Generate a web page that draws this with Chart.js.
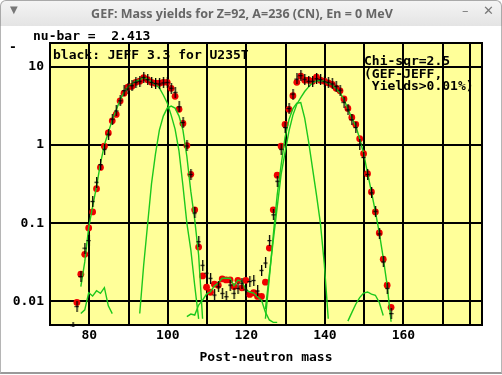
<!DOCTYPE html>
<html>
<head>
<meta charset="utf-8">
<script src="https://cdn.jsdelivr.net/npm/chart.js@4.4.1/dist/chart.umd.min.js"></script>
<style>
  html, body { margin: 0; padding: 0; background: #fff; }
  #win { position: relative; width: 502px; height: 375px; overflow: hidden; background: #fff; }
  #bar {
    position: absolute; left: 0; top: 0; width: 500px; height: 25px;
    border: 1px solid #a9a9a9; border-bottom: none; border-radius: 6px 6px 0 0;
    background: linear-gradient(#f4f4f4, #e4e4e4); z-index: 2;
  }
  #bar .t { position: absolute; left: 0; width: 482px; top: 4px; text-align: center;
    font: bold 12.5px "Noto Sans", sans-serif; color: #666; white-space: nowrap; }
  #bar .i { position: absolute; font: 13px "DejaVu Sans", sans-serif; color: #777; }
  #frame { position: absolute; left: 0; top: 25px; width: 500px; height: 347px;
    border: 1px solid #b5b5b5; border-top: none; border-bottom: 2px solid #9a9a9a; }
  canvas { position: absolute; left: 0; top: 0; z-index: 1; }
  .txt { position: absolute; font: bold 13px "DejaVu Sans Mono", monospace; color: #000;
    white-space: pre; line-height: 13px; z-index: 3; }
</style>
</head>
<body>
<div id="win">
  <div id="frame"></div>
  <div id="bar">
    <span class="i" style="left:9px;top:3px;font-size:10px">&#9660;</span>
    <div class="t">GEF: Mass yields for Z=92, A=236 (CN), En = 0 MeV</div>
    <span class="i" style="left:461px;top:2px">&#8211;</span>
    <span class="i" style="left:482px;top:2px">&#10005;</span>
  </div>
  <canvas id="myChart" width="502" height="375"></canvas>
  <div class="txt" style="left:33px;top:29px">nu-bar =  2.413</div>
  <div class="txt" style="left:9px;top:40px">-</div>
  <div class="txt" style="left:53px;top:48px">black: JEFF 3.3 for U235T</div>
  <div class="txt" style="left:364px;top:55px;line-height:12.5px">Chi-sqr=2.5
(GEF-JEFF,
 Yields&gt;0.01%)</div>
</div>
<script>
const ctx = document.getElementById('myChart');

// post-neutron masses and yields (%)
const gefFrom = 76;
const gefYield = [
  0.0097, 0.0223, 0.040, 0.087, 0.139, 0.275, 0.515, 0.96, 1.42, 2.03,
  2.45, 3.63, 4.56, 5.44, 5.6, 6.3, 6.5, 7.22, 6.81, 6.3,
  6.12, 6.12, 6.3, 6.3, 5.28, 4.17, 2.84, 1.88, 0.98, 0.42,
  0.148, 0.0495, 0.0212, 0.0152, 0.0131, 0.0166, 0.0161, 0.0194, 0.0188, 0.0188,
  0.0155, 0.0186, 0.0149, 0.0186, 0.0123, 0.0129, 0.0116, 0.0116, 0.0176, 0.048,
  0.148, 0.41, 0.96, 1.82, 2.84, 4.25, 6.3, 7.54, 6.69, 6.69,
  6.5, 7.31, 6.69, 6.5, 6.2, 5.9, 5.3, 4.9, 3.85, 2.92,
  2.24, 1.82, 1.2, 0.77, 0.428, 0.25, 0.139, 0.075, 0.0347, 0.0161,
  0.0084
];

const jeffFrom = 75;
const jeffYield = [
  0.0047, 0.0086, 0.0208, 0.048, 0.060, 0.19, 0.334, 0.56, 0.88, 1.37,
  2.13, 2.72, 3.66, 4.92, 5.17, 5.7, 6.3, 6.5, 7.3, 6.8,
  6.3, 6.1, 6.0, 6.2, 6.3, 5.3, 4.69, 3.07, 1.93, 0.97,
  0.42, 0.135, 0.058, 0.029, 0.023, 0.0198, 0.0121, 0.0154, 0.0127, 0.0115,
  0.0162, 0.0127, 0.0147, 0.0171, 0.0140, 0.0180, 0.0186, 0.0136, 0.025, 0.031,
  0.060, 0.128, 0.344, 0.88, 1.67, 2.92, 4.46, 6.94, 7.67, 6.9,
  6.5, 6.5, 7.0, 6.8, 6.4, 6.3, 6.0, 5.6, 5.0, 3.5,
  2.8, 2.1, 1.67, 1.02, 0.69, 0.42, 0.244, 0.142, 0.073, 0.032,
  0.0147, 0.007
];

// fission channels (green)
const s2LightFrom = 77;
const s2Light = [
  0.0155, 0.032, 0.0875, 0.163, 0.294, 0.58, 1.0, 1.45, 2.07, 2.78,
  3.73, 4.72, 5.49, 6.0, 6.55, 6.74, 7.3, 6.94, 6.35, 5.9,
  5.33, 4.33, 3.42, 2.4, 1.59, 0.83, 0.30, 0.10, 0.046, 0.016,
  0.006
];
const s1LightFrom = 92;
const s1Light = [
  0.007, 0.029, 0.096, 0.32, 0.76, 1.54, 2.33, 2.95, 3.13, 2.95,
  2.33, 1.54, 0.71, 0.256, 0.11, 0.039, 0.006
];
const s3LightFrom = 77;
const s3Light = [0.0070, 0.0078, 0.0129, 0.0117, 0.0137, 0.0127, 0.015, 0.0088, 0.0070];

const slFrom = 104;
const slYield = [
  0.0064, 0.0069, 0.0067, 0.009, 0.0104, 0.0124, 0.0133, 0.0158, 0.0172, 0.0198,
  0.0198, 0.0198, 0.0158, 0.0188, 0.0181, 0.014, 0.0132, 0.0128, 0.0115, 0.0104,
  0.0073, 0.0058, 0.0054, 0.0054
];

const s1HeavyFrom = 124;
const s1Heavy = [
  0.006, 0.02, 0.07, 0.23, 0.55, 1.25, 2.1, 2.9, 3.4, 3.47,
  2.2, 1.1, 0.5, 0.23, 0.1, 0.03, 0.006
];
const s2HeavyFrom = 124;
const s2Heavy = [
  0.008, 0.022, 0.06, 0.16, 0.42, 0.8, 1.5, 2.4, 3.3, 4.0,
  4.8, 5.5, 6.2, 6.6, 6.6, 6.5, 6.1, 5.9, 5.2, 4.6,
  3.8, 2.9, 2.2, 1.75, 1.2, 0.78, 0.44, 0.25, 0.14, 0.075,
  0.036, 0.016, 0.0055
];
const s3HeavyFrom = 145;
const s3Heavy = [0.0056, 0.0072, 0.0092, 0.0112, 0.0128, 0.0132, 0.0124, 0.0120, 0.0097, 0.0066];

const xTicks = [70, 80, 90, 100, 110, 120, 130, 140, 150, 160, 170, 177, 180];
const xLabels = [80, 100, 120, 140, 160];
const yTicks = [0.01, 0.1, 1, 10];
const yLabels = ['0.01', '0.1', '1', '10'];

// GEF draws its bins slightly right of the integer mass
const binShift = 0.85;

function pts(from, values) {
  return values.map((v, i) => ({ x: from + i + binShift, y: v }));
}

// error-bar cross used for the JEFF points
const cross = document.createElement('canvas');
cross.width = 5; cross.height = 11;
const cc2 = cross.getContext('2d');
cc2.fillStyle = '#000';
cc2.fillRect(2, 0, 1.3, 11);
cc2.fillRect(0.5, 5, 4, 1.2);

const green = '#1cc81c';
function channel(from, values) {
  return {
    data: pts(from, values), showLine: true, borderColor: green, borderWidth: 1.4,
    pointRadius: 0, tension: 0, order: 2, clip: 0
  };
}

const frame = {
  id: 'frame',
  beforeDraw(chart) {
    const a = chart.chartArea, c = chart.ctx;
    c.save();
    c.fillStyle = '#ffff99';
    c.fillRect(a.left, a.top, a.right - a.left, a.bottom - a.top);
    c.restore();
  },
  afterDraw(chart) {
    const a = chart.chartArea, c = chart.ctx;
    c.save();
    c.strokeStyle = '#000';
    c.lineWidth = 2;
    c.strokeRect(a.left, a.top, a.right - a.left, a.bottom - a.top);
    c.restore();
  }
};

const font = { family: 'DejaVu Sans Mono', weight: 'bold', size: 13 };

let t = {
  type: 'scatter',
  data: {
    datasets: [
      { data: pts(jeffFrom, jeffYield), pointStyle: cross, pointRadius: 5, order: 1, clip: 2 },
      channel(s2LightFrom, s2Light),
      channel(s1LightFrom, s1Light),
      channel(s3LightFrom, s3Light),
      channel(slFrom, slYield),
      channel(s1HeavyFrom, s1Heavy),
      channel(s2HeavyFrom, s2Heavy),
      channel(s3HeavyFrom, s3Heavy),
      { data: pts(gefFrom, gefYield), pointRadius: 3.4, backgroundColor: '#f00000',
        borderWidth: 0, order: 3 }
    ]
  },
  options: {
    responsive: false,
    animation: false,
    devicePixelRatio: 1,
    layout: { padding: { left: 0, top: 43, right: 20, bottom: 0 } },
    plugins: { legend: { display: false }, tooltip: { enabled: false } },
    scales: {
      x: {
        type: 'linear', min: 70, max: 180,
        afterBuildTicks: (s) => { s.ticks = xTicks.map(v => ({ value: v })); },
        afterFit: (s) => { s.height = 50; },
        grid: { color: '#000', lineWidth: 2, drawTicks: false },
        border: { display: false },
        ticks: {
          autoSkip: false, maxRotation: 0, padding: 3, color: '#000', font: font,
          callback: (v) => xLabels.includes(v) ? String(v) : ''
        },
        title: { display: true, text: 'Post-neutron mass', color: '#000', font: font,
          padding: { top: 0, bottom: 10 } }
      },
      y: {
        type: 'logarithmic', min: 0.005, max: 20,
        afterBuildTicks: (s) => { s.ticks = yTicks.map(v => ({ value: v })); },
        afterFit: (s) => { s.width = 50; },
        grid: { color: '#000', lineWidth: 2, drawTicks: false },
        border: { display: false },
        ticks: {
          autoSkip: false, padding: 6, color: '#000', font: font,
          callback: (v, i) => yLabels[i]
        }
      }
    }
  },
  plugins: [frame]
};

let cc = new Chart(ctx, t);
</script>
</body>
</html>
